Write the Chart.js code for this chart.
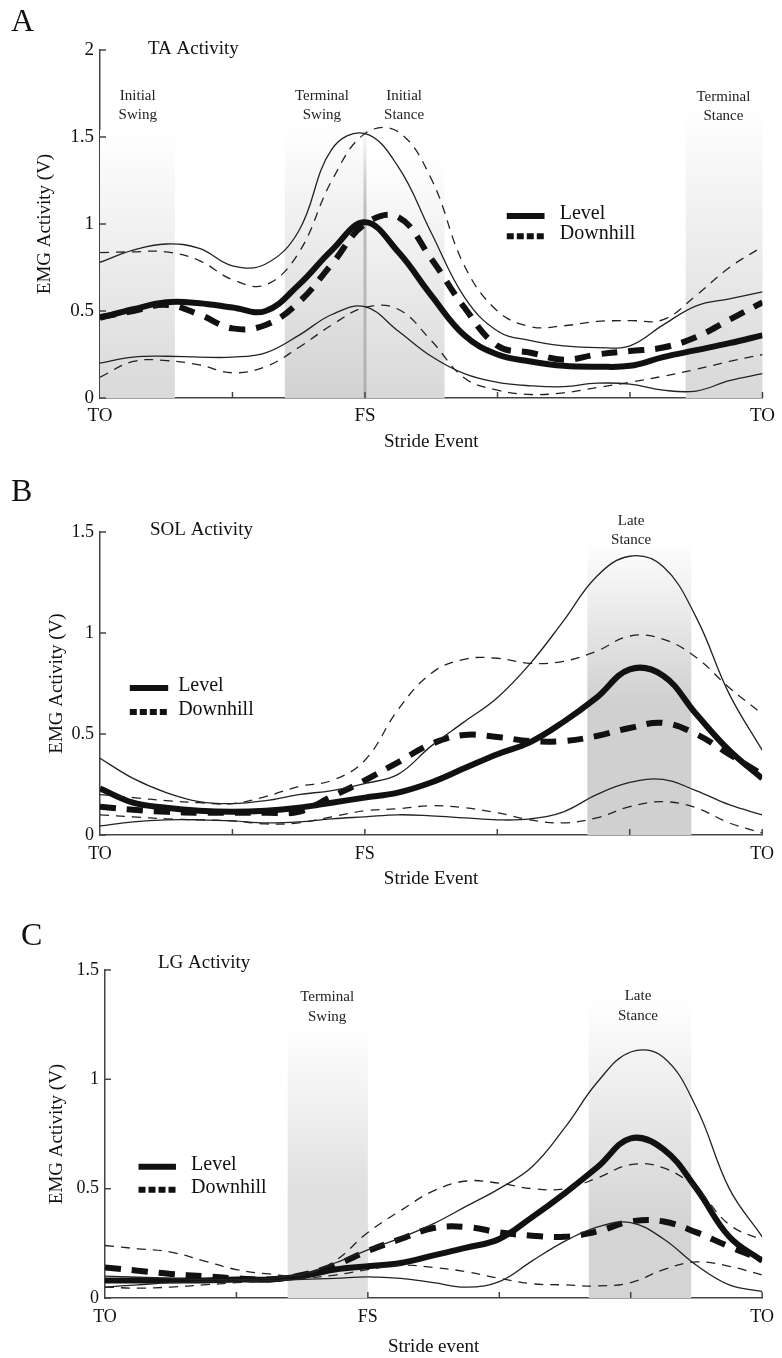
<!DOCTYPE html>
<html>
<head>
<meta charset="utf-8">
<script src="https://cdn.jsdelivr.net/npm/chart.js@4.4.1/dist/chart.umd.min.js"></script>
<style>
  html, body { margin: 0; padding: 0; background: #fff; }
  .panel { position: absolute; left: 0; width: 782px; }
</style>
</head>
<body>
<div class="panel" style="top:0px;height:455px"><canvas id="taChart" width="782" height="455"></canvas></div>
<div class="panel" style="top:455px;height:445px"><canvas id="solChart" width="782" height="445"></canvas></div>
<div class="panel" style="top:900px;height:458px"><canvas id="lgChart" width="782" height="458"></canvas></div>
<script>
'use strict';

// ---- shared x axis: % of stride, TO -> FS -> TO ----
const STRIDE_PCT = [0, 5, 10, 15, 20, 25, 30, 35, 40, 45, 50, 55, 60, 65, 70, 75, 80, 85, 90, 95, 100];
const X_TICKS = [0, 20, 40, 60, 80, 100];
const X_TICK_LABELS = ['TO', '', 'FS', '', '', 'TO'];

// ---- A: TA activity (V) ----
const TA_LEVEL    = [0.46, 0.51, 0.55, 0.545, 0.52, 0.50, 0.65, 0.85, 1.01, 0.84, 0.59, 0.36, 0.25, 0.21, 0.185, 0.18, 0.185, 0.235, 0.275, 0.315, 0.36];
const TA_LEVEL_HI = [0.78, 0.85, 0.885, 0.86, 0.76, 0.77, 0.96, 1.43, 1.52, 1.33, 0.95, 0.58, 0.385, 0.33, 0.30, 0.29, 0.30, 0.42, 0.53, 0.57, 0.61];
const TA_LEVEL_LO = [0.20, 0.235, 0.24, 0.235, 0.235, 0.26, 0.36, 0.48, 0.525, 0.385, 0.24, 0.14, 0.09, 0.07, 0.065, 0.085, 0.08, 0.045, 0.04, 0.10, 0.14];
const TA_DOWN     = [0.465, 0.50, 0.535, 0.48, 0.40, 0.42, 0.55, 0.77, 1.0, 1.04, 0.80, 0.52, 0.30, 0.26, 0.22, 0.25, 0.27, 0.29, 0.35, 0.45, 0.55];
const TA_DOWN_HI  = [0.835, 0.84, 0.84, 0.79, 0.68, 0.65, 0.835, 1.25, 1.52, 1.53, 1.26, 0.76, 0.50, 0.41, 0.415, 0.44, 0.445, 0.45, 0.59, 0.75, 0.87];
const TA_DOWN_LO  = [0.12, 0.21, 0.215, 0.19, 0.145, 0.18, 0.29, 0.42, 0.52, 0.51, 0.33, 0.115, 0.045, 0.02, 0.03, 0.06, 0.09, 0.125, 0.165, 0.21, 0.25];

// ---- B: SOL activity (V) ----
const SOL_LEVEL    = [0.23, 0.16, 0.135, 0.12, 0.115, 0.12, 0.135, 0.16, 0.185, 0.21, 0.26, 0.33, 0.40, 0.46, 0.56, 0.68, 0.82, 0.79, 0.60, 0.42, 0.28];
const SOL_LEVEL_HI = [0.38, 0.28, 0.21, 0.165, 0.155, 0.17, 0.20, 0.22, 0.255, 0.30, 0.44, 0.56, 0.68, 0.85, 1.06, 1.28, 1.38, 1.33, 1.08, 0.70, 0.42];
const SOL_LEVEL_LO = [0.045, 0.065, 0.075, 0.075, 0.07, 0.06, 0.065, 0.08, 0.09, 0.10, 0.095, 0.085, 0.075, 0.08, 0.115, 0.20, 0.26, 0.275, 0.22, 0.15, 0.10];
const SOL_DOWN     = [0.14, 0.125, 0.115, 0.11, 0.11, 0.11, 0.115, 0.19, 0.27, 0.36, 0.45, 0.495, 0.485, 0.465, 0.465, 0.49, 0.53, 0.555, 0.50, 0.40, 0.30];
const SOL_DOWN_HI  = [0.20, 0.185, 0.17, 0.16, 0.155, 0.19, 0.24, 0.27, 0.37, 0.62, 0.80, 0.87, 0.875, 0.85, 0.86, 0.91, 0.985, 0.97, 0.88, 0.73, 0.60];
const SOL_DOWN_LO  = [0.10, 0.09, 0.08, 0.075, 0.07, 0.055, 0.06, 0.09, 0.12, 0.13, 0.145, 0.135, 0.11, 0.075, 0.06, 0.085, 0.14, 0.165, 0.135, 0.06, 0.01];

// ---- C: LG activity (V) ----
const LG_LEVEL    = [0.08, 0.08, 0.08, 0.08, 0.085, 0.085, 0.10, 0.13, 0.145, 0.16, 0.195, 0.23, 0.27, 0.37, 0.48, 0.60, 0.73, 0.68, 0.50, 0.28, 0.17];
const LG_LEVEL_HI = [0.10, 0.095, 0.09, 0.085, 0.085, 0.09, 0.11, 0.16, 0.22, 0.275, 0.34, 0.42, 0.50, 0.60, 0.78, 0.99, 1.125, 1.10, 0.87, 0.50, 0.28];
const LG_LEVEL_LO = [0.05, 0.06, 0.07, 0.075, 0.078, 0.08, 0.085, 0.09, 0.097, 0.09, 0.07, 0.05, 0.075, 0.17, 0.26, 0.325, 0.345, 0.27, 0.15, 0.06, 0.03];
const LG_DOWN     = [0.14, 0.125, 0.11, 0.10, 0.09, 0.085, 0.105, 0.15, 0.215, 0.27, 0.32, 0.325, 0.30, 0.285, 0.28, 0.305, 0.35, 0.35, 0.30, 0.235, 0.175];
const LG_DOWN_HI  = [0.24, 0.225, 0.21, 0.17, 0.13, 0.11, 0.105, 0.17, 0.30, 0.40, 0.49, 0.535, 0.525, 0.50, 0.50, 0.55, 0.61, 0.595, 0.50, 0.335, 0.265];
const LG_DOWN_LO  = [0.05, 0.045, 0.05, 0.06, 0.07, 0.08, 0.09, 0.105, 0.13, 0.15, 0.14, 0.12, 0.09, 0.065, 0.06, 0.055, 0.07, 0.13, 0.165, 0.145, 0.105];

const SERIF = '"Liberation Serif", "DejaVu Serif", serif';
const INK = '#111';
const AXIS = '#444';

function pts(arr) {
  return STRIDE_PCT.map((x, i) => ({ x, y: arr[i] }));
}

function thin(arr, dashed) {
  return { data: pts(arr), borderColor: '#222', borderWidth: 1.3, borderDash: dashed ? [9, 7] : [], pointRadius: 0, tension: 0.4, fill: false };
}
function thick(arr, dashed) {
  return { data: pts(arr), borderColor: INK, borderWidth: 6, borderDash: dashed ? [16, 11] : [], pointRadius: 0, tension: 0.4, fill: false };
}

// bands, phase labels, legend, inward ticks, panel letter + title
function decorPlugin(cfg) {
  return {
    id: 'decor' + cfg.letter,
    beforeDatasetsDraw(chart) {
      const { ctx, chartArea, scales: { x, y } } = chart;
      ctx.save();
      cfg.bands.forEach(b => {
        const x0 = x.getPixelForValue(b.from), x1 = x.getPixelForValue(b.to);
        const yt = y.getPixelForValue(b.top), yb = chartArea.bottom;
        const g = ctx.createLinearGradient(0, yt, 0, yb);
        g.addColorStop(0, '#ffffff');
        g.addColorStop(b.mid, b.color);
        g.addColorStop(1, b.color);
        ctx.fillStyle = g;
        ctx.fillRect(x0, yt, x1 - x0, yb - yt);
      });
      if (cfg.eventLine) {
        const px = x.getPixelForValue(cfg.eventLine.at);
        const g = ctx.createLinearGradient(0, y.getPixelForValue(cfg.eventLine.top), 0, chartArea.bottom);
        g.addColorStop(0, 'rgba(180,180,180,0)');
        g.addColorStop(0.3, '#bdbdbd');
        g.addColorStop(1, '#b0b0b0');
        ctx.strokeStyle = g;
        ctx.lineWidth = 3;
        ctx.beginPath();
        ctx.moveTo(px, y.getPixelForValue(cfg.eventLine.top));
        ctx.lineTo(px, chartArea.bottom);
        ctx.stroke();
      }
      ctx.restore();
    },
    afterDraw(chart) {
      const { ctx, chartArea, scales: { x, y } } = chart;
      ctx.save();
      // inward tick marks
      ctx.strokeStyle = AXIS;
      ctx.lineWidth = 1.5;
      ctx.beginPath();
      x.ticks.forEach(t => {
        if (t.value === x.min) return;
        const px = x.getPixelForValue(t.value);
        ctx.moveTo(px, chartArea.bottom);
        ctx.lineTo(px, chartArea.bottom - 6);
      });
      y.ticks.forEach(t => {
        const py = y.getPixelForValue(t.value);
        ctx.moveTo(chartArea.left, py);
        ctx.lineTo(chartArea.left + 6, py);
      });
      ctx.stroke();

      // phase labels
      ctx.fillStyle = '#222';
      ctx.textAlign = 'center';
      ctx.textBaseline = 'middle';
      ctx.font = cfg.phaseFont + 'px ' + SERIF;
      cfg.phases.forEach(p => {
        const px = x.getPixelForValue(p.x);
        const py = y.getPixelForValue(p.y);
        p.lines.forEach((ln, i) => ctx.fillText(ln, px, py + i * cfg.phaseGap));
      });

      // legend
      cfg.legend.items.forEach((it, i) => {
        const ly = y.getPixelForValue(cfg.legend.y[i]);
        ctx.strokeStyle = INK;
        ctx.lineWidth = 6;
        ctx.setLineDash(it.dash);
        ctx.beginPath();
        ctx.moveTo(x.getPixelForValue(cfg.legend.x0), ly);
        ctx.lineTo(x.getPixelForValue(cfg.legend.x1), ly);
        ctx.stroke();
        ctx.setLineDash([]);
        ctx.fillStyle = INK;
        ctx.textAlign = 'left';
        ctx.font = '20px ' + SERIF;
        ctx.fillText(it.text, x.getPixelForValue(cfg.legend.tx), ly - 2);
      });

      // panel letter and muscle title
      ctx.fillStyle = INK;
      ctx.textAlign = 'left';
      ctx.textBaseline = 'alphabetic';
      ctx.font = '32px ' + SERIF;
      ctx.fillText(cfg.letter, cfg.letterPos[0], cfg.letterPos[1]);
      ctx.font = '19px ' + SERIF;
      ctx.fillText(cfg.title, cfg.titlePos[0], cfg.titlePos[1]);
      ctx.restore();
    }
  };
}

function makePanel(id, series, cfg) {
  const datasets = [
    thin(series.levelHi, false), thin(series.levelLo, false),
    thin(series.downHi, true), thin(series.downLo, true),
    thick(series.down, true), thick(series.level, false)
  ];
  return new Chart(document.getElementById(id), {
    type: 'line',
    data: { datasets },
    options: {
      responsive: false,
      animation: false,
      layout: { padding: { left: 0, right: cfg.padRight, top: cfg.padTop, bottom: 0 } },
      plugins: { legend: { display: false }, tooltip: { enabled: false } },
      scales: {
        x: {
          type: 'linear', min: 0, max: 100,
          afterBuildTicks: s => { s.ticks = X_TICKS.map(v => ({ value: v })); },
          afterFit: s => { s.height = cfg.xAxisH; },
          grid: { display: false, drawTicks: false },
          border: { display: true, color: AXIS, width: 1.5 },
          ticks: {
            autoSkip: false, maxRotation: 0, padding: cfg.xTickPad, color: INK,
            font: { family: SERIF, size: cfg.tickFont },
            callback: v => X_TICK_LABELS[X_TICKS.indexOf(v)] ?? ''
          },
          title: { display: true, text: cfg.xTitle, color: INK, font: { family: SERIF, size: 19 }, padding: { top: 0, bottom: cfg.xTitlePad } }
        },
        y: {
          min: 0, max: cfg.yMax,
          afterFit: s => { s.width = cfg.left; },
          grid: { display: false, drawTicks: false },
          border: { display: true, color: AXIS, width: 1.5 },
          ticks: {
            stepSize: 0.5, padding: 6, color: INK,
            font: { family: SERIF, size: cfg.tickFont },
            callback: v => String(v)
          },
          title: { display: true, text: 'EMG Activity (V)', color: INK, font: { family: SERIF, size: 19 }, padding: { top: cfg.yTitlePad, bottom: 0 } }
        }
      }
    },
    plugins: [decorPlugin(cfg)]
  });
}

const LEGEND_ITEMS = [
  { text: 'Level', dash: [] },
  { text: 'Downhill', dash: [7, 3] }
];

makePanel('taChart',
  { level: TA_LEVEL, levelHi: TA_LEVEL_HI, levelLo: TA_LEVEL_LO, down: TA_DOWN, downHi: TA_DOWN_HI, downLo: TA_DOWN_LO },
  {
    letter: 'A', letterPos: [11, 31], title: 'TA Activity', titlePos: [148, 54],
    left: 100, padRight: 19, padTop: 50, xAxisH: 57, yMax: 2,
    tickFont: 19, xTickPad: 7, xTitle: 'Stride Event', xTitlePad: 2, yTitlePad: 34,
    bands: [
      { from: 0, to: 11.3, top: 1.54, color: '#d9d9d9', mid: 1 },
      { from: 27.9, to: 40, top: 1.57, color: '#d2d2d2', mid: 1 },
      { from: 40, to: 52, top: 1.39, color: '#d8d8d8', mid: 1 },
      { from: 88.4, to: 100, top: 1.68, color: '#d8d8d8', mid: 1 }
    ],
    eventLine: { at: 40, top: 1.55 },
    phaseFont: 15, phaseGap: 19,
    phases: [
      { x: 5.7, y: 1.735, lines: ['Initial', 'Swing'] },
      { x: 33.5, y: 1.735, lines: ['Terminal', 'Swing'] },
      { x: 45.9, y: 1.735, lines: ['Initial', 'Stance'] },
      { x: 94.1, y: 1.73, lines: ['Terminal', 'Stance'] }
    ],
    legend: { items: LEGEND_ITEMS, x0: 61.4, x1: 67.1, tx: 69.4, y: [1.046, 0.93] }
  });

makePanel('solChart',
  { level: SOL_LEVEL, levelHi: SOL_LEVEL_HI, levelLo: SOL_LEVEL_LO, down: SOL_DOWN, downHi: SOL_DOWN_HI, downLo: SOL_DOWN_LO },
  {
    letter: 'B', letterPos: [11, 46], title: 'SOL Activity', titlePos: [150, 80],
    left: 100, padRight: 19, padTop: 77, xAxisH: 65, yMax: 1.5,
    tickFont: 18, xTickPad: 8, xTitle: 'Stride Event', xTitlePad: 10, yTitlePad: 46,
    bands: [
      { from: 73.6, to: 89.3, top: 1.46, color: '#d0d0d0', mid: 0.55 }
    ],
    eventLine: null,
    phaseFont: 15, phaseGap: 19,
    phases: [
      { x: 80.2, y: 1.554, lines: ['Late', 'Stance'] }
    ],
    legend: { items: LEGEND_ITEMS, x0: 4.5, x1: 10.3, tx: 11.8, y: [0.728, 0.609] }
  });

makePanel('lgChart',
  { level: LG_LEVEL, levelHi: LG_LEVEL_HI, levelLo: LG_LEVEL_LO, down: LG_DOWN, downHi: LG_DOWN_HI, downLo: LG_DOWN_LO },
  {
    letter: 'C', letterPos: [21, 45], title: 'LG Activity', titlePos: [158, 68],
    left: 105, padRight: 12, padTop: 70, xAxisH: 60, yMax: 1.5,
    tickFont: 18, xTickPad: 8, xTitle: 'Stride event', xTitlePad: 0, yTitlePad: 46,
    bands: [
      { from: 27.8, to: 40, top: 1.24, color: '#e0e0e0', mid: 0.6 },
      { from: 73.6, to: 89.2, top: 1.37, color: '#d4d4d4', mid: 0.75 }
    ],
    eventLine: null,
    phaseFont: 15, phaseGap: 20,
    phases: [
      { x: 33.8, y: 1.376, lines: ['Terminal', 'Swing'] },
      { x: 81.1, y: 1.38, lines: ['Late', 'Stance'] }
    ],
    legend: { items: LEGEND_ITEMS, x0: 5.1, x1: 10.8, tx: 13.1, y: [0.60, 0.495] }
  });
</script>
</body>
</html>
